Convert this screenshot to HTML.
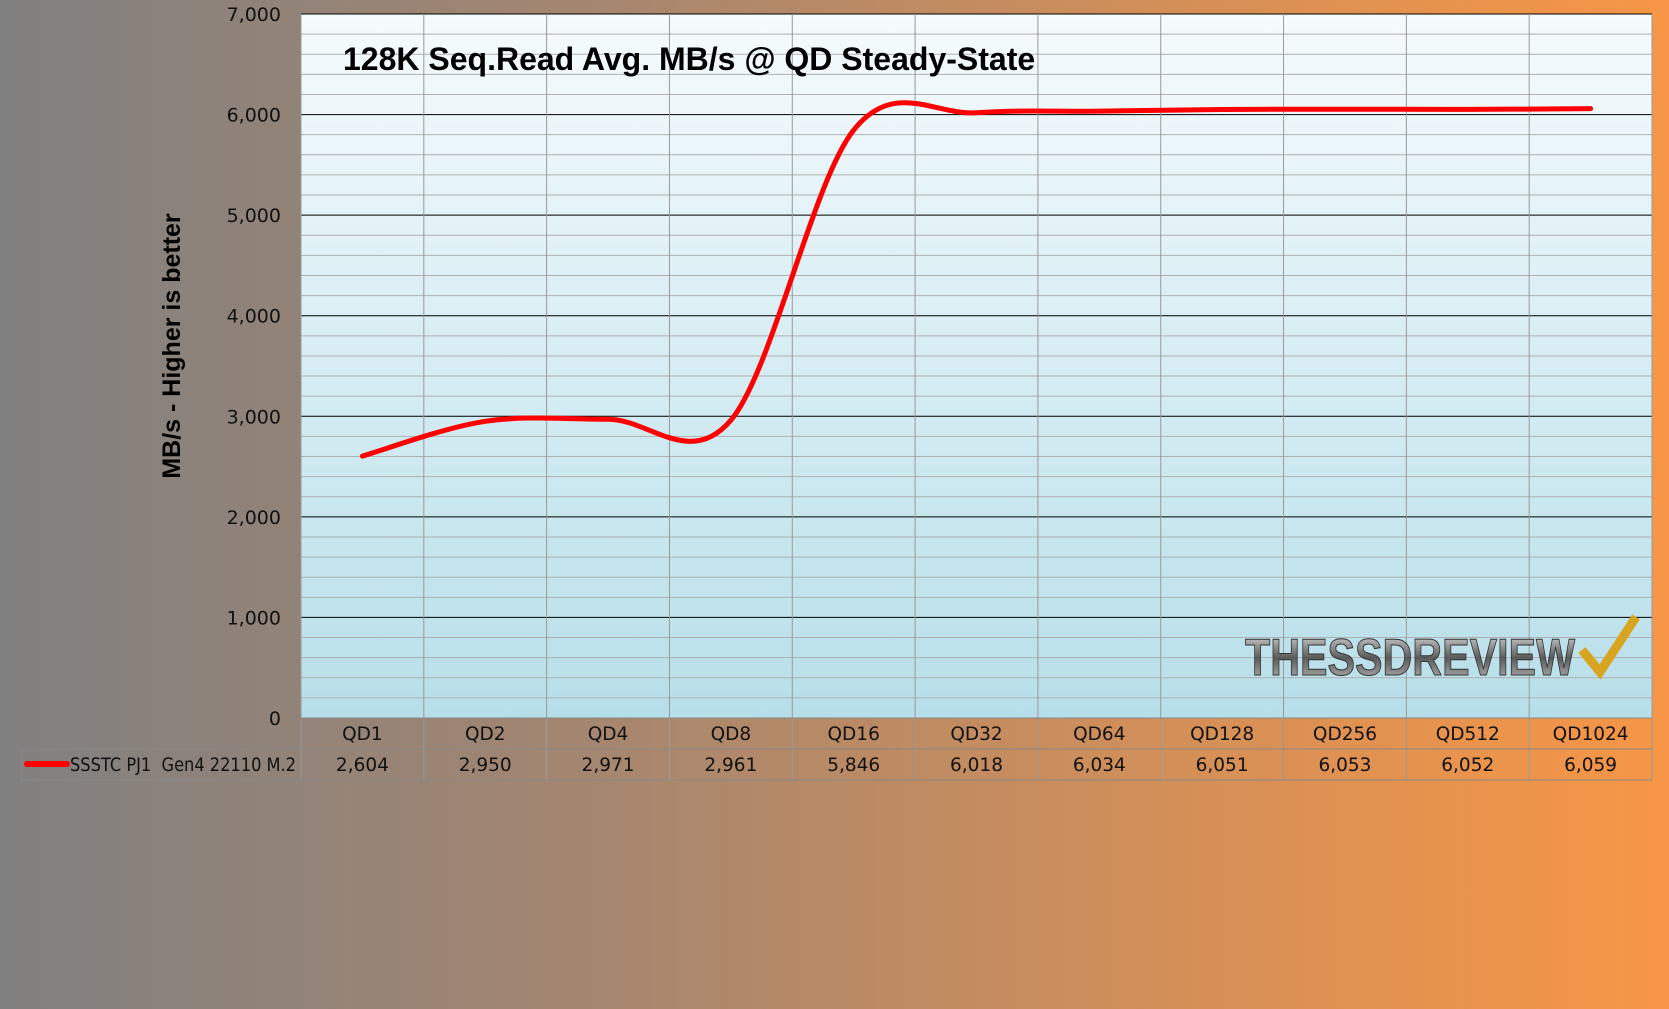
<!DOCTYPE html>
<html><head><meta charset="utf-8"><style>
html,body{margin:0;padding:0;}
body{width:1669px;height:1009px;overflow:hidden;background:linear-gradient(to right,#808080 0%,#a48670 35%,#d38f58 70%,#f79646 100%);font-family:"Liberation Sans",sans-serif;}
</style></head><body>
<svg id="s" width="1669" height="1009" xmlns="http://www.w3.org/2000/svg" style="position:absolute;left:0;top:0">
<defs>
<linearGradient id="pb" x1="0" y1="0" x2="0" y2="1"><stop offset="0" stop-color="#f6fbfd"/><stop offset="1" stop-color="#b7dfe9"/></linearGradient>
<linearGradient id="lg" x1="0" y1="0" x2="0" y2="1"><stop offset="0" stop-color="#e8e8e8"/><stop offset="0.5" stop-color="#5a5a5a"/><stop offset="1" stop-color="#c8c8c8"/></linearGradient>
</defs>
<rect x="301" y="14" width="1351" height="704" fill="url(#pb)"/>
<g id="grid"></g>
<text x="343" y="70" font-size="32" font-weight="bold" fill="#000">128K Seq.Read Avg. MB/s @ QD Steady-State</text>
<text transform="translate(180,346) rotate(-90)" text-anchor="middle" font-size="25" font-weight="bold" fill="#000">MB/s - Higher is better</text>
<text x="1245" y="675" font-size="52" font-weight="bold" fill="url(#lg)" stroke="#333" stroke-width="1" textLength="330" lengthAdjust="spacingAndGlyphs">THESSDREVIEW</text>
<path d="M1582 650 L1600 672 L1636 617" stroke="#d9a520" stroke-width="9" fill="none"/>
<g id="tbl" font-family="'DejaVu Sans',sans-serif" font-size="18.5" fill="#111"></g>
<path id="curve" fill="none" stroke="#ff0000" stroke-width="5" stroke-linecap="round"/>
</svg>
<script>
var g=document.getElementById('grid'),t=document.getElementById('tbl'),h='',L=301,R=1652,T=14,B=718;
var sc=(B-T)/7000;
for(var v=0;v<=7000;v+=200){var y=B-v*sc;var maj=v%1000==0;h+='<line x1="'+L+'" x2="'+R+'" y1="'+y+'" y2="'+y+'" stroke="'+(maj?'#000':'#b0b0b0')+'" stroke-width="1"/>';
if(maj)h+='<text x="281" y="'+(y+7)+'" text-anchor="end" font-family="DejaVu Sans,sans-serif" font-size="19" fill="#111">'+v.toLocaleString('en-US')+'</text>';}
var cw=(R-L)/11;
for(var i=0;i<=11;i++){var x=L+i*cw;h+='<line x1="'+x+'" x2="'+x+'" y1="'+T+'" y2="780" stroke="#999" stroke-width="1"/>';}
g.innerHTML=h;
var labs=['QD1','QD2','QD4','QD8','QD16','QD32','QD64','QD128','QD256','QD512','QD1024'];
var d=[2604,2950,2971,2961,5846,6018,6034,6051,6053,6052,6059];
var s='<line x1="21" x2="'+R+'" y1="749" y2="749" stroke="#888"/><line x1="21" x2="'+R+'" y1="780" y2="780" stroke="#888"/><line x1="21" x2="21" y1="749" y2="780" stroke="#888"/><line x1="'+L+'" x2="'+R+'" y1="718" y2="718" stroke="#888"/>';
s+='<line x1="27" x2="67" y1="764" y2="764" stroke="#f00" stroke-width="6" stroke-linecap="round"/><text x="70" y="771" textLength="226" lengthAdjust="spacingAndGlyphs">SSSTC PJ1&#160; Gen4 22110 M.2</text>';
for(i=0;i<11;i++){var cx=L+cw*(i+.5);s+='<text x="'+cx+'" y="740" text-anchor="middle">'+labs[i]+'</text><text x="'+cx+'" y="771" text-anchor="middle">'+d[i].toLocaleString('en-US')+'</text>';}
t.innerHTML=s;
var p=d.map(function(v,i){return [L+cw*(i+.5),B-v*sc]});
var path='M'+p[0][0]+' '+p[0][1];
for(i=0;i<p.length-1;i++){var p0=p[i-1]||p[i],p1=p[i],p2=p[i+1],p3=p[i+2]||p2;var k=1/6;
path+=' C'+(p1[0]+(p2[0]-p0[0])*k)+' '+(p1[1]+(p2[1]-p0[1])*k)+' '+(p2[0]-(p3[0]-p1[0])*k)+' '+(p2[1]-(p3[1]-p1[1])*k)+' '+p2[0]+' '+p2[1];}
document.getElementById('curve').setAttribute('d',path);
</script>
</body></html>
